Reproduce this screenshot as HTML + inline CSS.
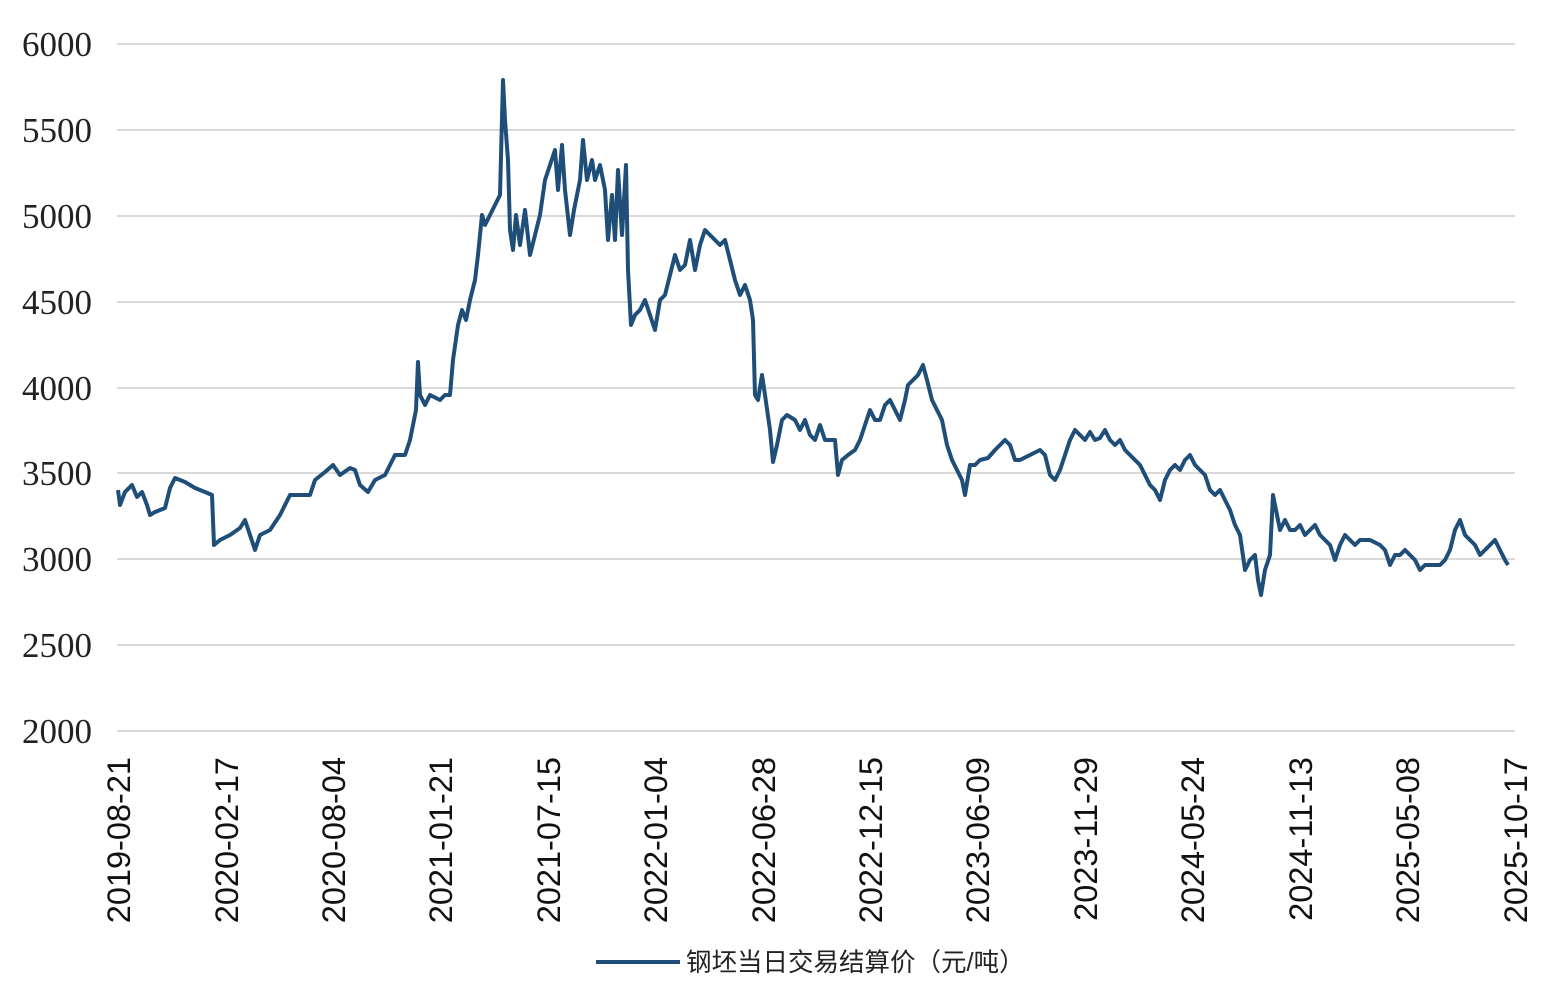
<!DOCTYPE html>
<html><head><meta charset="utf-8"><style>
html,body{margin:0;padding:0;background:#fff;}
</style></head><body>
<svg width="1568" height="990" xmlns="http://www.w3.org/2000/svg">
<g stroke="#d9d9d9" stroke-width="2">
<line x1="117" x2="1515" y1="44" y2="44"/><line x1="117" x2="1515" y1="130" y2="130"/>
<line x1="117" x2="1515" y1="216" y2="216"/><line x1="117" x2="1515" y1="302" y2="302"/>
<line x1="117" x2="1515" y1="388" y2="388"/><line x1="117" x2="1515" y1="473" y2="473"/>
<line x1="117" x2="1515" y1="559" y2="559"/><line x1="117" x2="1515" y1="645" y2="645"/>
<line x1="117" x2="1515" y1="731" y2="731"/>
</g>
<g font-family="Liberation Serif, serif" font-size="35" fill="#222" text-anchor="end">
<text x="92" y="56">6000</text><text x="92" y="142">5500</text><text x="92" y="228">5000</text>
<text x="92" y="314">4500</text><text x="92" y="400">4000</text><text x="92" y="485">3500</text>
<text x="92" y="571">3000</text><text x="92" y="657">2500</text><text x="92" y="743">2000</text>
</g>
<g font-family="Liberation Sans, sans-serif" font-size="32.5" fill="#111" text-anchor="end">
<text transform="translate(130,757) rotate(-90)">2019-08-21</text>
<text transform="translate(238,757) rotate(-90)">2020-02-17</text>
<text transform="translate(345,757) rotate(-90)">2020-08-04</text>
<text transform="translate(452,757) rotate(-90)">2021-01-21</text>
<text transform="translate(560,757) rotate(-90)">2021-07-15</text>
<text transform="translate(667,757) rotate(-90)">2022-01-04</text>
<text transform="translate(775,757) rotate(-90)">2022-06-28</text>
<text transform="translate(882,757) rotate(-90)">2022-12-15</text>
<text transform="translate(989,757) rotate(-90)">2023-06-09</text>
<text transform="translate(1097,757) rotate(-90)">2023-11-29</text>
<text transform="translate(1204,757) rotate(-90)">2024-05-24</text>
<text transform="translate(1312,757) rotate(-90)">2024-11-13</text>
<text transform="translate(1419,757) rotate(-90)">2025-05-08</text>
<text transform="translate(1527,757) rotate(-90)">2025-10-17</text>
</g>
<polyline fill="none" stroke="#1f4e79" stroke-width="4" stroke-linejoin="round" points="118,490 120,505 125,492 132,485 137,497 142,492 147,505 150,515 155,512 165,508 170,488 175,478 185,482 195,488 205,492 212,495 214,545 220,540 230,535 240,528 245,520 250,535 255,550 260,535 270,530 280,515 290,495 300,495 310,495 315,480 325,472 333,465 340,475 350,468 355,470 360,485 368,492 375,480 385,475 390,465 395,455 405,455 410,440 413,425 416,410 418,362 420,395 425,405 430,395 440,400 445,395 450,395 453,360 458,325 462,310 466,320 470,300 475,280 478,255 482,215 485,225 490,215 495,205 500,195 503,80 505,120 508,160 510,230 513,250 516,215 520,245 525,210 530,255 535,235 540,215 545,180 550,165 555,150 558,190 562,145 565,190 570,235 574,210 580,180 583,140 587,180 592,160 595,180 600,165 605,190 608,240 612,195 615,240 618,170 622,235 626,165 628,270 631,325 635,315 640,310 645,300 650,315 655,330 660,300 665,295 670,275 675,255 680,270 685,265 690,240 695,270 700,245 705,230 710,235 715,240 720,245 725,240 730,260 735,280 740,295 745,285 750,300 753,320 755,395 758,400 762,375 765,395 770,430 773,462 777,445 782,420 787,415 795,420 800,430 805,420 810,435 815,440 820,425 825,440 835,440 838,475 842,460 848,455 855,450 860,440 865,425 870,410 875,420 880,420 885,405 890,400 895,410 900,420 905,400 908,385 913,380 918,375 923,365 927,380 932,400 937,410 942,420 947,445 952,460 957,470 962,480 965,495 970,465 975,465 980,460 988,458 995,450 1000,445 1005,440 1010,445 1015,460 1020,460 1030,455 1040,450 1045,455 1050,475 1055,480 1060,470 1065,455 1070,440 1075,430 1080,435 1085,440 1090,432 1095,440 1100,438 1105,430 1110,440 1115,445 1120,440 1125,450 1130,455 1135,460 1140,465 1145,475 1150,485 1155,490 1160,500 1165,480 1170,470 1175,465 1180,470 1185,460 1190,455 1195,465 1200,470 1205,475 1210,490 1215,495 1220,490 1225,500 1230,510 1235,525 1240,535 1245,570 1250,560 1255,555 1258,580 1261,595 1265,570 1270,555 1273,495 1276,510 1280,530 1285,520 1290,530 1295,530 1300,525 1305,535 1310,530 1315,525 1320,535 1325,540 1330,545 1335,560 1340,545 1345,535 1350,540 1355,545 1360,540 1370,540 1380,545 1385,550 1390,565 1395,555 1400,555 1405,550 1410,555 1415,560 1420,570 1425,565 1430,565 1440,565 1445,560 1450,550 1455,530 1460,520 1465,535 1470,540 1475,545 1480,555 1485,550 1490,545 1495,540 1500,550 1505,560 1508,565"/>
<line x1="596" x2="680" y1="962" y2="962" stroke="#1f4e79" stroke-width="4"/>
<text x="686" y="971" font-family="Liberation Sans, Noto Sans CJK SC, sans-serif" font-size="25.5" fill="#222">钢坯当日交易结算价（元/吨）</text>
</svg>
</body></html>
